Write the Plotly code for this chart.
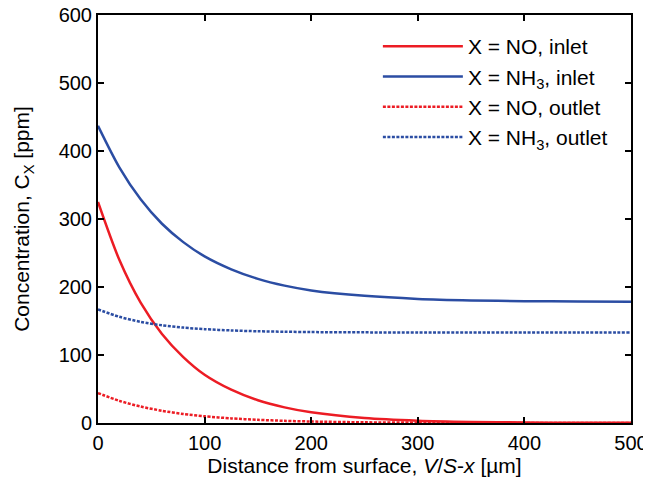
import plotly.graph_objects as go

# distance from surface V/S-x [um]
distance = [0, 20, 40, 60, 80, 100, 125, 150, 175, 200, 250, 300, 350, 400, 450, 500]

# concentrations [ppm]
no_inlet = [325, 240, 177, 131, 97, 71, 49, 33.5, 23, 15.7, 7.3, 3.4, 1.6, 0.75, 0.35, 0.2]
nh3_inlet = [437, 376, 329, 293, 266, 245, 226, 212, 202, 195, 187, 182.5, 180.3, 179.2, 178.6, 178.3]
no_outlet = [44, 32.6, 24.2, 18, 13.3, 9.9, 6.8, 4.7, 3.2, 2.2, 1.0, 0.5, 0.2, 0.1, 0.05, 0.02]
nh3_outlet = [167, 156.2, 148.7, 143.7, 140.3, 138, 136.1, 134.9, 134.2, 133.7, 133.3, 133.1, 133, 133, 133, 133]

RED = "#EC1C24"
BLUE = "#2B4DA3"

series = [
    ("X = NO, inlet", no_inlet, RED, "solid"),
    ("X = NH<sub>3</sub>, inlet", nh3_inlet, BLUE, "solid"),
    ("X = NO, outlet", no_outlet, RED, "3px,1.5px"),
    ("X = NH<sub>3</sub>, outlet", nh3_outlet, BLUE, "3px,1.5px"),
]

fig = go.Figure()
for name, vals, color, dash in series:
    fig.add_trace(
        go.Scatter(
            x=distance,
            y=vals,
            mode="lines",
            name=name,
            line=dict(color=color, width=2.5, dash=dash, shape="spline", smoothing=0.8),
        )
    )

axis_common = dict(
    showline=True,
    linecolor="black",
    linewidth=2,
    mirror="ticks",
    ticks="inside",
    ticklen=6,
    tickwidth=2,
    tickcolor="black",
    showgrid=False,
    zeroline=False,
    automargin=False,
    ticklabeloverflow="allow",
    tickfont=dict(size=20, color="black"),
)

# page body has an 8px margin, so the figure is sized to fit the window
fig.update_layout(
    width=643,
    height=478,
    margin=dict(l=90, r=20, t=7, b=63),
    paper_bgcolor="white",
    plot_bgcolor="white",
    font=dict(family="Liberation Sans, Arial, sans-serif", size=21, color="black"),
    xaxis=dict(
        range=[0, 500],
        dtick=100,
        ticklabelstandoff=1,
        title=dict(text="Distance from surface, <i>V</i>/<i>S</i>-<i>x</i> [µm]", font=dict(size=21), standoff=4),
        **axis_common,
    ),
    yaxis=dict(
        range=[0, 600],
        dtick=100,
        title=dict(text="Concentration, C<sub>X</sub> [ppm]", font=dict(size=21), standoff=23),
        **axis_common,
    ),
    legend=dict(
        x=0.966,
        y=0.973,
        xanchor="right",
        yanchor="top",
        bgcolor="rgba(0,0,0,0)",
        itemwidth=80,
        font=dict(size=21),
        tracegroupgap=0,
    ),
    showlegend=True,
)

fig.write_html("out.html")
